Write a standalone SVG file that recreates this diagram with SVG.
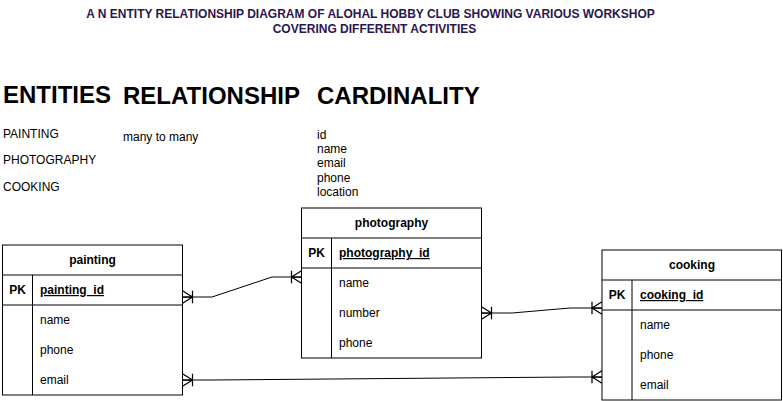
<svg xmlns="http://www.w3.org/2000/svg" width="783" height="401" viewBox="0 0 783 401">
<style>
text{font-family:"Liberation Sans",Arial,Helvetica,sans-serif;fill:#000}
.title{font-size:12px;font-weight:bold;fill:#2b1650;text-anchor:middle}
.h{font-size:24px;font-weight:bold}
.t{font-size:12px}
.hd{font-size:12px;font-weight:bold;text-anchor:middle}
.pk{font-size:12px;font-weight:bold;text-anchor:middle}
.key{font-size:12px;font-weight:bold;text-decoration:underline}
.box{fill:#fff;stroke:#000;stroke-width:1}
.ln{fill:none;stroke:#000;stroke-width:1}
.conn{fill:none;stroke:#000;stroke-width:1;marker-start:url(#crow);marker-end:url(#crow)}
</style>
<defs>
<marker id="crow" markerUnits="userSpaceOnUse" orient="auto-start-reverse" refX="0" refY="0" markerWidth="20" markerHeight="20" viewBox="-12 -8 14 16" overflow="visible">
<path d="M-8,0 L0,-5 M-8,0 L0,0 M-8,0 L0,5 M-8,-5 L-8,5" fill="none" stroke="#000" stroke-width="1"/>
</marker>
</defs>
<rect width="783" height="401" fill="#fff"/>
<g id="title">
<text class="title" x="370.5" y="17.5">A N ENTITY RELATIONSHIP DIAGRAM OF ALOHAL HOBBY CLUB SHOWING VARIOUS WORKSHOP</text>
<text class="title" x="374.5" y="32.5">COVERING DIFFERENT ACTIVITIES</text>
</g>
<g id="legend">
<text class="h" x="3" y="103">ENTITIES</text>
<text class="h" x="123" y="104">RELATIONSHIP</text>
<text class="h" x="317" y="104">CARDINALITY</text>
<text class="t" x="3" y="137.5">PAINTING</text>
<text class="t" x="3" y="163.5">PHOTOGRAPHY</text>
<text class="t" x="3" y="190.5">COOKING</text>
<text class="t" x="123" y="140.5">many to many</text>
<text class="t" x="317" y="138.5">id</text>
<text class="t" x="317" y="152.9">name</text>
<text class="t" x="317" y="167.3">email</text>
<text class="t" x="317" y="181.7">phone</text>
<text class="t" x="317" y="196.1">location</text>
</g>
<g id="connectors">
<path class="conn" d="M182.5,297 L212,297 L272,277 L301.5,277"/>
<path class="conn" d="M481.5,313 L512,313 L570,308 L602,308"/>
<path class="conn" d="M182.5,380 L212,380 L572,377 L602,377"/>
</g>
<g id="painting">
<rect class="box" x="2.5" y="245" width="180" height="150"/>
<path class="ln" d="M2.5,275 H182.5 M2.5,305 H182.5 M32.5,275 V395"/>
<text class="hd" x="92.5" y="264">painting</text>
<text class="pk" x="17.5" y="294">PK</text>
<text class="key" x="40" y="294">painting_id</text>
<text class="t" x="40" y="324">name</text>
<text class="t" x="40" y="354">phone</text>
<text class="t" x="40" y="384">email</text>
</g>
<g id="photography">
<rect class="box" x="301.5" y="208" width="180" height="150"/>
<path class="ln" d="M301.5,238 H481.5 M301.5,268 H481.5 M331.5,238 V358"/>
<text class="hd" x="391.5" y="227">photography</text>
<text class="pk" x="316.5" y="257">PK</text>
<text class="key" x="339" y="257">photography_id</text>
<text class="t" x="339" y="287">name</text>
<text class="t" x="339" y="317">number</text>
<text class="t" x="339" y="347">phone</text>
</g>
<g id="cooking">
<rect class="box" x="602" y="250" width="179.5" height="150"/>
<path class="ln" d="M602,280 H781.5 M602,310 H781.5 M632,280 V400"/>
<text class="hd" x="692" y="269">cooking</text>
<text class="pk" x="617" y="299">PK</text>
<text class="key" x="640" y="299">cooking_id</text>
<text class="t" x="640" y="329">name</text>
<text class="t" x="640" y="359">phone</text>
<text class="t" x="640" y="389">email</text>
</g>
</svg>
